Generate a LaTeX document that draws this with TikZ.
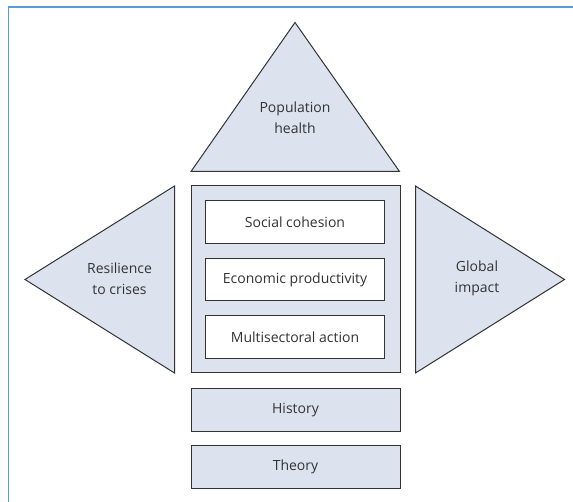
\documentclass[tikz,border=0pt]{standalone}
\usepackage{fontspec}
\setmainfont{Open Sans}
\begin{document}
\definecolor{panel}{HTML}{DCE3EF}
\definecolor{framecol}{HTML}{5B9BD5}
\definecolor{ink}{HTML}{333333}
\begin{tikzpicture}[x=1pt,y=-1pt,
  shape outline/.style={draw=ink,line width=1pt,fill=panel},
  label text/.style={text=ink,font=\fontsize{14}{20.5}\selectfont,align=center},
  whitebox/.style={draw=ink,line width=1pt,fill=white,inner sep=0pt}]
\useasboundingbox (0,0) rectangle (573,502);
% outer frame, open at right and bottom
\draw[framecol,line width=1.6pt] (8.5,502) -- (8.5,6.8) -- (573,6.8);

% top triangle
\coordinate (ta) at (295,22.5);
\coordinate (tl) at (191,171.5);
\coordinate (tr) at (399.5,171.5);
\draw[shape outline] (ta) -- (tl) -- (tr) -- cycle;
\node[label text] (pop) at (295,118) {Population\\health};

% left triangle
\coordinate (la) at (25,279.5);
\coordinate (lt) at (174.5,186);
\coordinate (lb) at (174.5,373);
\draw[shape outline] (la) -- (lt) -- (lb) -- cycle;
\node[label text] (res) at (119.5,279) {Resilience\\to crises};

% right triangle
\coordinate (ra) at (564.5,279.5);
\coordinate (rt) at (415.5,186);
\coordinate (rb) at (415.5,373);
\draw[shape outline] (ra) -- (rt) -- (rb) -- cycle;
\node[label text] (glo) at (477,278.5) {Global\\impact};

% central panel with three elements
\draw[shape outline] (191,186) rectangle (400,373);
\node[whitebox,minimum width=178.5pt,minimum height=42.5pt,label text] (soc) at (295,222) {Social cohesion};
\node[whitebox,minimum width=178.5pt,minimum height=42.5pt,label text] (eco) at (295,279.5) {Economic productivity};
\node[whitebox,minimum width=178.5pt,minimum height=42.5pt,label text] (mul) at (295,337) {Multisectoral action};

% foundation layers
\node[shape outline,minimum width=209pt,minimum height=42.7pt,inner sep=0pt,label text] (his) at (295.5,409.7) {History};
\node[shape outline,minimum width=209pt,minimum height=42.7pt,inner sep=0pt,label text] (the) at (295.5,467) {Theory};
\end{tikzpicture}
\end{document}
